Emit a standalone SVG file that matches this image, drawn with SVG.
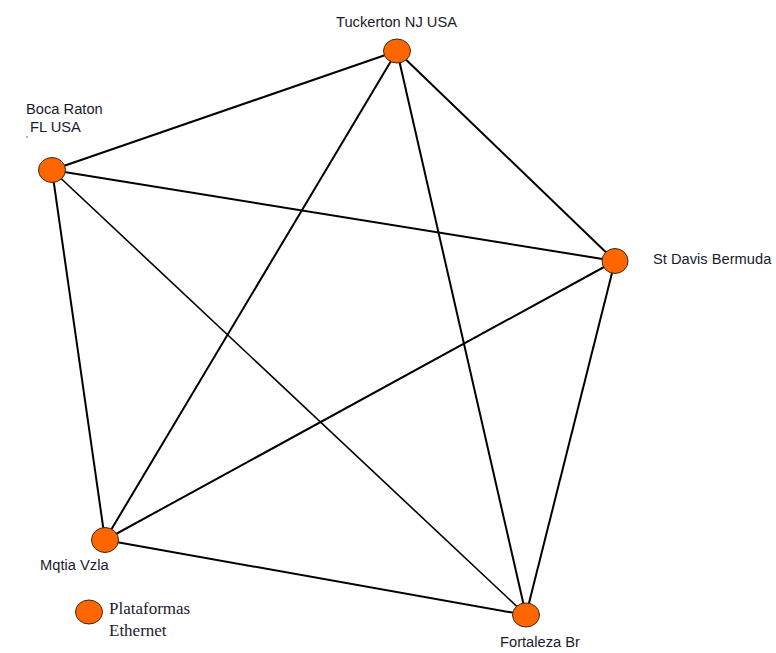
<svg xmlns="http://www.w3.org/2000/svg" width="776" height="653" viewBox="0 0 776 653">
  <style>
    .edge { stroke: #000; stroke-width: 2; fill: none; }
    .site { fill: #ff6600; stroke: #3a2a1a; stroke-width: 1; }
    .lbl { font-family: "Liberation Sans", Arial, sans-serif; font-size: 14.7px; fill: #1a1a2e; }
    .leg { font-family: "Liberation Serif", "Times New Roman", serif; font-size: 17px; fill: #1a1a2e; }
  </style>
  <rect width="776" height="653" fill="#fff"/>

  <!-- full mesh between the five platforms -->
  <g id="connectors">
    <line class="edge" x1="397" y1="51" x2="52" y2="170"/>
    <line class="edge" x1="397" y1="51" x2="615" y2="261"/>
    <line class="edge" x1="397" y1="51" x2="105" y2="540"/>
    <line class="edge" x1="397" y1="51" x2="526" y2="615"/>
    <line class="edge" x1="52" y1="170" x2="615" y2="261"/>
    <line class="edge" x1="52" y1="170" x2="105" y2="540"/>
    <line class="edge" x1="52" y1="170" x2="526" y2="615" style="stroke-width:1.6"/>
    <line class="edge" x1="615" y1="261" x2="105" y2="540"/>
    <line class="edge" x1="615" y1="261" x2="526" y2="615"/>
    <line class="edge" x1="105" y1="540" x2="526" y2="615"/>
  </g>

  <g id="tuckerton">
    <ellipse class="site" cx="397" cy="51" rx="13.5" ry="12"/>
    <text class="lbl" x="336" y="27">Tuckerton NJ USA</text>
  </g>

  <g id="boca-raton">
    <ellipse class="site" cx="52" cy="170" rx="13.5" ry="12.5"/>
    <text class="lbl" x="26" y="114">Boca Raton</text>
    <text class="lbl" x="30" y="132">FL USA</text>
    <circle cx="27" cy="137" r="0.7" fill="#333"/>
  </g>

  <g id="st-davis">
    <ellipse class="site" cx="615" cy="261" rx="13" ry="12.5"/>
    <text class="lbl" x="653" y="264">St Davis Bermuda</text>
  </g>

  <g id="mqtia">
    <ellipse class="site" cx="105" cy="540" rx="13.5" ry="12.5"/>
    <text class="lbl" x="40" y="570">Mqtia Vzla</text>
  </g>

  <g id="fortaleza">
    <ellipse class="site" cx="526" cy="615" rx="13.5" ry="12"/>
    <text class="lbl" x="500" y="647">Fortaleza Br</text>
  </g>

  <g id="legend">
    <ellipse class="site" cx="89" cy="612" rx="13.5" ry="12"/>
    <text class="leg" x="109" y="614">Plataformas</text>
    <text class="leg" x="109" y="636">Ethernet</text>
  </g>
</svg>
